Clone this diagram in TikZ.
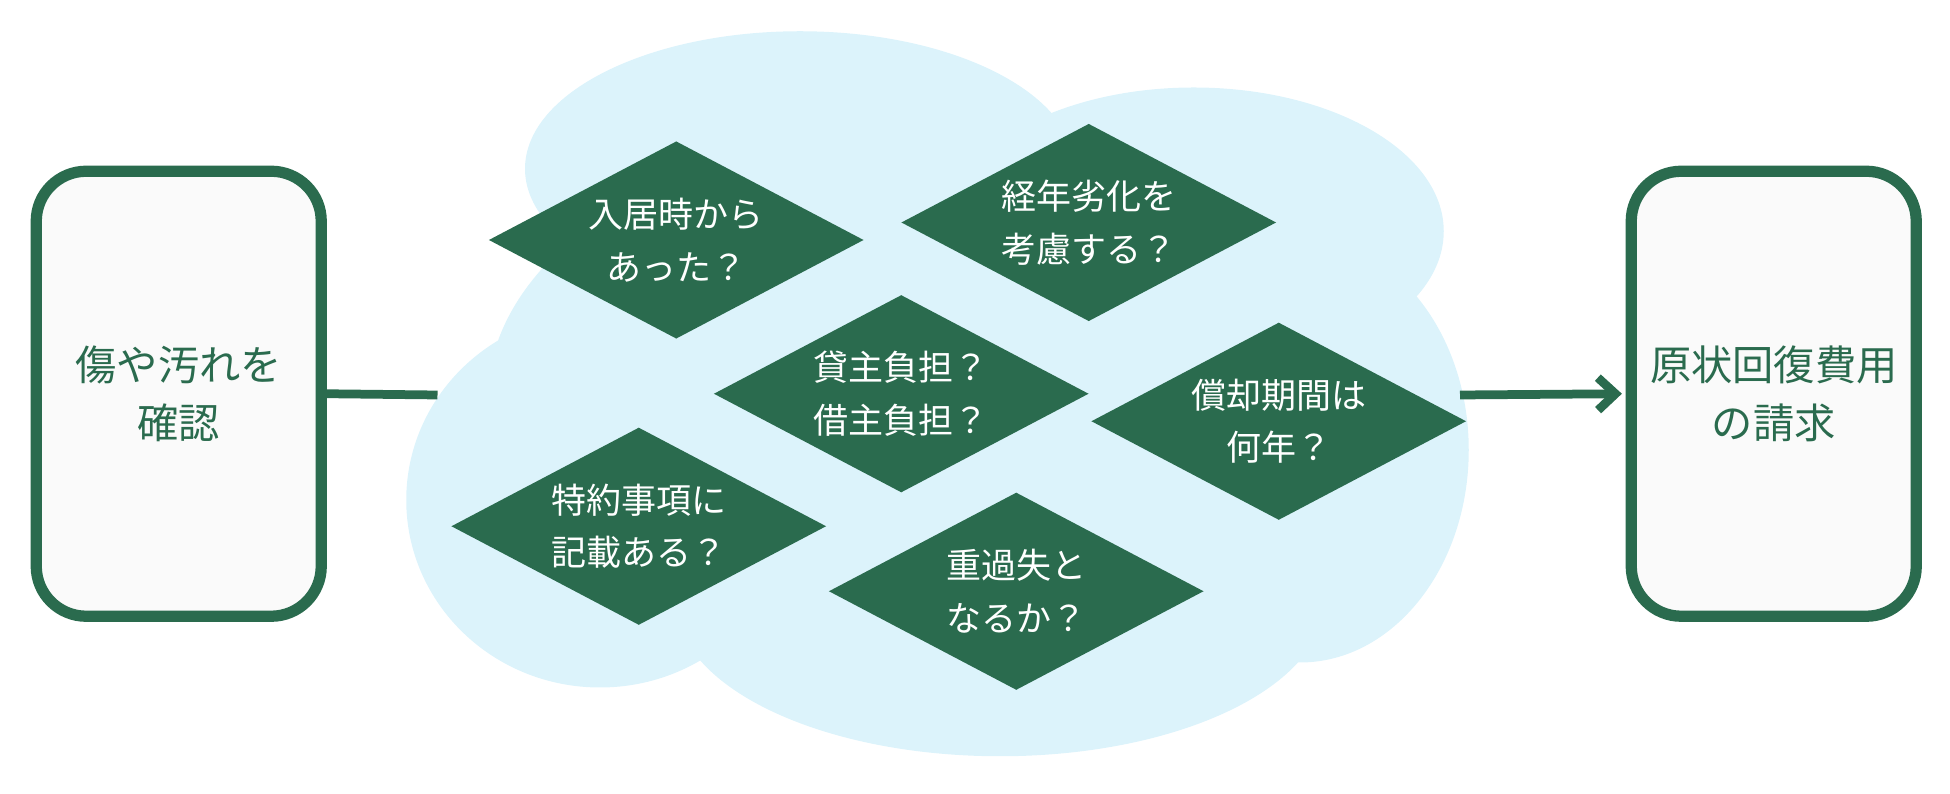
\documentclass[tikz,border=0pt]{standalone}
\usepackage{fontspec}
\setmainfont{Noto Sans CJK JP}
\usetikzlibrary{shapes.geometric,arrows.meta}
\definecolor{dg}{HTML}{2A6B4E}
\definecolor{cl}{HTML}{DCF3FB}
\tikzset{
 box/.style={draw=dg,line width=4.5pt,fill=white!98!black,rounded corners=20pt,minimum width=114pt,minimum height=178pt,text=dg,font=\fontsize{16.5}{23}\selectfont,align=center},
 dia/.style={diamond,fill=dg,text=white,minimum width=150pt,minimum height=79pt,aspect=1.9,inner sep=0pt,font=\fontsize{14}{21}\selectfont,align=center},
 conn/.style={draw=dg,line width=3.5pt}
}
\begin{document}
\begin{tikzpicture}[x=0.5pt,y=-0.5pt]
\useasboundingbox (0,0) rectangle (1560,635);
\fill[cl] (640,135) ellipse[x radius=110pt,y radius=55pt];
\fill[cl] (955,185) ellipse[x radius=100pt,y radius=57.5pt];
\fill[cl] (1040,360) ellipse[x radius=67.5pt,y radius=85pt];
\fill[cl] (800,480) ellipse[x radius=130pt,y radius=62.5pt];
\fill[cl] (480,400) ellipse[x radius=77.5pt,y radius=75pt];
\fill[cl] (750,320) ellipse[x radius=180pt,y radius=110pt];
\node[box] (L) at (143,315) {傷や汚れを\\確認};
\node[box] (R) at (1419,315) {原状回復費用\\の請求};
\coordinate (c1) at (350,316);
\coordinate (c2) at (1168,316);
\draw[conn] (L.east) -- (c1);
\draw[conn,-{Straight Barb[length=7pt,width=13pt]}] (c2) -- ([xshift=-1.5pt]R.west);
\node[dia] (d1) at (541,192) {入居時から\\あった？};
\node[dia] (d2) at (871,178) {経年劣化を\\考慮する？};
\node[dia] (d3) at (721,315) {貸主負担？\\借主負担？};
\node[dia] (d4) at (1023,337) {償却期間は\\何年？};
\node[dia] (d5) at (511,421) {特約事項に\\記載ある？};
\node[dia] (d6) at (813,473) {重過失と\\なるか？};
\end{tikzpicture}
\end{document}
